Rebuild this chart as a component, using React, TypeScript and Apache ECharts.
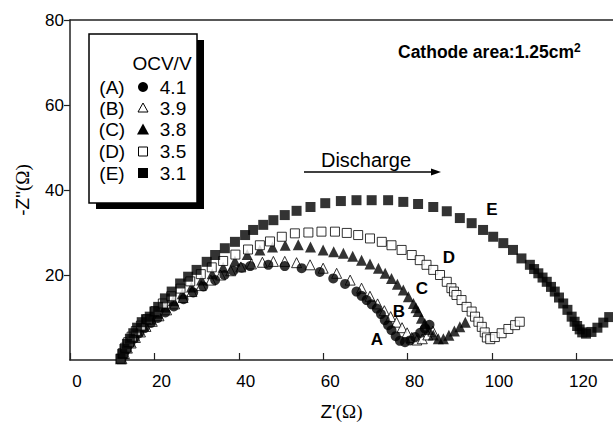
import React, { useEffect, useRef } from "react";
import * as echarts from "echarts";

const xTicks = [0, 20, 40, 60, 80, 100, 120];
const yTicks = [20, 40, 60, 80];

const seriesNames = ["A", "B", "C", "D", "E"];
const ocvValues = ["4.1", "3.9", "3.8", "3.5", "3.1"];

const dataA = [
  [12.2, 0.3], [12.8, 1.5], [13.5, 2.7], [14.3, 3.9], [15.3, 5.1], [16.4, 6.3], [17.7, 7.5],
  [19.2, 8.7], [20.8, 9.9], [22.6, 11.2], [24.6, 12.6], [26.9, 14.3], [29.2, 15.9], [31.6, 17.3],
  [34.4, 18.8], [36.6, 20.0], [38.7, 21.0], [40.7, 21.7], [42.7, 22.1], [47.0, 22.4], [50.9, 22.1],
  [54.9, 21.6], [59.2, 20.7], [62.4, 19.2], [65.2, 17.9], [67.9, 16.1], [69.1, 15.1], [70.3, 14.1],
  [71.5, 13.1], [72.7, 12.1], [73.7, 10.8], [74.6, 9.4], [75.4, 8.2], [76.2, 7.0], [77.2, 5.6],
  [78.2, 4.5], [79.4, 4.2], [80.6, 4.6], [81.8, 5.4], [83.0, 6.4], [84.1, 7.4], [85.2, 8.3],
];

const dataB = [
  [12.3, 0.3], [12.9, 1.5], [13.6, 2.8], [14.5, 4.0], [15.5, 5.3], [16.7, 6.6], [18.0, 7.9],
  [19.5, 9.1], [21.1, 10.4], [22.9, 11.8], [24.8, 13.2], [26.8, 14.7], [28.9, 16.1], [31.1, 17.5],
  [33.4, 18.8], [35.7, 20.0], [38.1, 21.0], [40.5, 21.9], [43.0, 22.6], [45.6, 23.0], [48.2, 23.2],
  [50.9, 23.2], [53.7, 22.9], [56.9, 22.4], [60.0, 21.6], [63.2, 20.4], [66.4, 18.8], [69.1, 16.9],
  [71.1, 15.0], [72.9, 13.2], [74.5, 11.6], [76.0, 10.2], [77.4, 8.9], [78.7, 7.6], [79.9, 6.4],
  [81.0, 5.3], [82.2, 4.7], [83.5, 5.0], [84.8, 5.9], [86.0, 6.8],
];

const dataC = [
  [12.0, 0.3], [12.6, 1.6], [13.3, 3.0], [14.1, 4.3], [15.0, 5.6], [16.1, 6.9], [17.4, 8.2],
  [19.0, 9.6], [20.7, 11.0], [22.5, 12.5], [24.5, 14.0], [26.6, 15.6], [28.8, 17.2], [31.2, 18.8],
  [33.7, 20.3], [36.3, 21.8], [39.1, 23.3], [42.0, 24.8], [45.0, 25.9], [48.0, 26.6], [51.0, 27.0],
  [54.1, 27.1], [57.0, 26.6], [60.0, 25.9], [62.5, 25.5], [64.8, 25.1], [67.0, 24.4], [69.1, 23.5],
  [71.1, 22.6], [73.1, 21.6], [74.7, 20.4], [76.2, 19.2], [77.6, 17.8], [79.0, 16.5], [80.2, 14.9],
  [81.4, 13.3], [82.0, 12.3], [82.5, 11.4], [83.3, 9.8], [84.1, 8.6], [85.0, 7.2], [86.1, 5.9], [87.3, 5.0],
  [88.5, 5.0], [89.8, 5.8], [91.1, 6.8], [92.4, 7.8], [93.7, 8.9],
];

const dataD = [
  [12.0, 0.3], [12.5, 1.6], [13.1, 2.9], [13.8, 4.2], [14.6, 5.5], [15.6, 6.8], [16.8, 8.1],
  [18.3, 9.6], [20.2, 11.5], [22.0, 13.3], [24.0, 15.0], [26.2, 16.8], [28.5, 18.5], [31.0, 20.2],
  [33.6, 21.8], [36.3, 23.3], [39.2, 24.8], [42.2, 26.0], [45.0, 27.0], [47.4, 27.9], [50.2, 29.0],
  [53.3, 29.8], [56.5, 30.0], [59.6, 30.2], [62.8, 30.2], [65.6, 29.9], [68.3, 29.4], [71.1, 28.6],
  [73.9, 27.8], [76.2, 27.0], [78.6, 25.9], [81.0, 24.7], [82.9, 23.5], [84.5, 22.4], [86.1, 21.2],
  [87.7, 20.0], [89.3, 18.4], [90.4, 16.9], [91.0, 16.1], [91.6, 15.3], [92.8, 14.1], [94.0, 12.5],
  [95.2, 11.4], [96.0, 10.2], [96.8, 9.0], [97.6, 7.8], [98.3, 6.5], [98.8, 5.3], [99.6, 4.9],
  [100.7, 5.4], [102.3, 6.3], [103.9, 7.3], [105.5, 8.2], [106.6, 9.0],
];

const dataE = [
  [12.0, 0.3], [12.4, 1.4], [12.9, 2.6], [13.5, 3.8], [14.2, 5.0], [15.0, 6.3], [15.9, 7.6],
  [17.0, 8.9], [18.0, 9.6], [18.9, 10.2], [20.0, 11.4], [20.9, 12.5], [22.5, 14.5], [24.1, 16.1],
  [26.1, 18.0], [28.0, 19.6], [30.0, 21.2], [32.4, 23.1], [34.4, 24.7], [36.7, 26.3], [39.1, 27.8],
  [41.5, 29.4], [43.4, 30.6], [45.8, 31.8], [48.2, 32.9], [50.9, 34.1], [53.7, 35.1], [57.0, 36.0],
  [60.5, 36.9], [64.2, 37.4], [67.9, 37.6], [71.5, 37.6], [75.4, 37.6], [79.0, 37.2], [82.5, 36.7],
  [86.1, 36.0], [89.3, 35.0], [92.4, 33.4], [95.2, 32.2], [97.9, 30.6], [100.3, 29.0], [102.7, 27.5],
  [105.0, 25.9], [107.0, 23.9], [109.0, 22.4], [110.0, 21.4], [111.0, 20.4], [112.0, 19.4],
  [113.0, 18.4], [114.0, 17.2], [114.9, 16.1], [115.9, 14.7], [116.9, 13.3], [117.9, 11.8],
  [118.9, 10.2], [119.6, 9.0], [120.2, 8.0], [120.8, 7.2], [121.4, 6.5], [122.3, 6.2], [123.6, 6.6],
  [125.0, 7.6], [126.4, 8.8], [127.8, 10.1], [129.0, 11.3],
];

const curveLabels = [
  { t: "A", x: 377, y: 339 },
  { t: "B", x: 399, y: 311 },
  { t: "C", x: 422, y: 288 },
  { t: "D", x: 449, y: 257 },
  { t: "E", x: 492, y: 209 },
];

const SANS = "'Liberation Sans', Arial, Helvetica, sans-serif";
const SERIF = "'Liberation Serif', 'Times New Roman', serif";

export default function App() {
  const ref = useRef<HTMLDivElement>(null);
  useEffect(() => {
    if (!ref.current) return;
    const chart = echarts.init(ref.current, null, { renderer: "svg" });
    const xMin = 0;
    const xMax = 128.7;

    const rowY = [87, 108, 129.5, 151.5, 173];
    const mx = 143;
    const Z = 110;
    const legendMarkers: any[] = [
      { type: "circle", z: Z, shape: { cx: mx, cy: rowY[0], r: 5 }, style: { fill: "#000" } },
      {
        type: "polygon", z: Z,
        shape: { points: [[mx, rowY[1] - 5], [mx + 5, rowY[1] + 4], [mx - 5, rowY[1] + 4]] },
        style: { fill: "#fff", stroke: "#000", lineWidth: 1 },
      },
      {
        type: "polygon", z: Z,
        shape: { points: [[mx, rowY[2] - 6], [mx + 6, rowY[2] + 5], [mx - 6, rowY[2] + 5]] },
        style: { fill: "#000" },
      },
      { type: "rect", z: Z, shape: { x: mx - 4.5, y: rowY[3] - 4.5, width: 9, height: 9 }, style: { fill: "#fff", stroke: "#000", lineWidth: 1 } },
      { type: "rect", z: Z, shape: { x: mx - 5, y: rowY[4] - 5, width: 10, height: 10 }, style: { fill: "#000" } },
    ];

    const legendTexts: any[] = [
      { type: "text", z: Z, x: 162, y: 63, style: { text: "OCV/V", font: `19px ${SANS}`, fill: "#000", align: "center", verticalAlign: "middle" } },
    ];
    seriesNames.forEach((n, i) => {
      legendTexts.push({
        type: "text", z: Z, x: 112, y: rowY[i],
        style: { text: `(${n})`, font: `19px ${SANS}`, fill: "#000", align: "center", verticalAlign: "middle" },
      });
      legendTexts.push({
        type: "text", z: Z, x: 173, y: rowY[i],
        style: { text: ocvValues[i], font: `19px ${SANS}`, fill: "#000", align: "center", verticalAlign: "middle" },
      });
    });

    const option: any = {
      animation: false,
      backgroundColor: "#fff",
      grid: { left: 70, right: 0, top: 20, bottom: 68 },
      xAxis: [
        {
          type: "value",
          min: xMin,
          max: xMax,
          interval: 20,
          name: "{a|Z'}{b|(Ω)}",
          nameLocation: "middle",
          nameGap: 42,
          nameTextStyle: {
            rich: {
              a: { fontFamily: SANS, fontSize: 19, color: "#000" },
              b: { fontFamily: SERIF, fontSize: 19, color: "#000" },
            },
          },
          axisLine: { show: true, lineStyle: { color: "#222", width: 1.5 } },
          axisTick: { show: true, inside: true, length: 7, lineStyle: { color: "#222", width: 1.2 } },
          axisLabel: {
            show: true,
            showMaxLabel: false,
            margin: 13,
            padding: [0, 0, 0, 14],
            fontFamily: SANS,
            fontSize: 17,
            color: "#000",
            formatter: (v: number) => (xTicks.indexOf(v) >= 0 ? String(v) : ""),
          },
          splitLine: { show: false },
        },
        {
          type: "value",
          position: "top",
          min: xMin,
          max: xMax,
          axisLine: { show: true, onZero: false, lineStyle: { color: "#222", width: 1.5 } },
          axisTick: { show: false },
          axisLabel: { show: false },
          splitLine: { show: false },
        },
      ],
      yAxis: {
        type: "value",
        min: 0,
        max: 80,
        interval: 20,
        name: '{a|-Z"}{b|(Ω)}',
        nameLocation: "middle",
        nameGap: 38,
        nameTextStyle: {
          rich: {
            a: { fontFamily: SANS, fontSize: 19, color: "#000" },
            b: { fontFamily: SERIF, fontSize: 19, color: "#000" },
          },
        },
        axisLine: { show: true, lineStyle: { color: "#222", width: 1.5 } },
        axisTick: { show: true, inside: false, length: 6, lineStyle: { color: "#222", width: 1.2 } },
        axisLabel: {
          showMinLabel: false,
          margin: 6,
          fontFamily: SANS,
          fontSize: 17,
          color: "#000",
          formatter: (v: number) => (yTicks.indexOf(v) >= 0 ? String(v) : ""),
        },
        splitLine: { show: false },
      },
      series: [
        { name: "B", type: "scatter", data: dataB, symbol: "triangle", symbolSize: 10, itemStyle: { color: "#fff", borderColor: "#000", borderWidth: 1 } },
        { name: "A", type: "scatter", data: dataA, symbol: "circle", symbolSize: 10, itemStyle: { color: "#000" } },
        { name: "C", type: "scatter", data: dataC, symbol: "triangle", symbolSize: 11, itemStyle: { color: "#000" } },
        { name: "D", type: "scatter", data: dataD, symbol: "rect", symbolSize: 9, itemStyle: { color: "#fff", borderColor: "#000", borderWidth: 1 } },
        { name: "E", type: "scatter", data: dataE, symbol: "rect", symbolSize: 10, itemStyle: { color: "#000" } },
      ],
      graphic: [
        { type: "rect", shape: { x: 96, y: 40, width: 108, height: 169 }, style: { fill: "#000" }, z: 100 },
        { type: "rect", shape: { x: 89, y: 34, width: 108, height: 169 }, style: { fill: "#fff", stroke: "#000", lineWidth: 1.5 }, z: 101 },
        ...legendTexts,
        ...legendMarkers,
        {
          type: "text", x: 398, y: 52, z: 100,
          style: {
            text: "{a|Cathode area:1.25cm}{s|2}",
            verticalAlign: "middle",
            rich: {
              a: { fontFamily: SANS, fontSize: 17.5, fontWeight: "bold", fill: "#000", color: "#000" },
              s: { fontFamily: SANS, fontSize: 12, fontWeight: "bold", fill: "#000", color: "#000", verticalAlign: "top", padding: [0, 0, 8, 0] },
            },
          },
        },
        {
          type: "text", x: 366, y: 160, z: 100,
          style: { text: "Discharge", font: `20px ${SANS}`, fill: "#000", align: "center", verticalAlign: "middle" },
        },
        { type: "line", shape: { x1: 304, y1: 172, x2: 433, y2: 172 }, style: { stroke: "#000", lineWidth: 1.5 }, z: 100 },
        { type: "polygon", shape: { points: [[431, 168.5], [441, 172], [431, 175.5]] }, style: { fill: "#000" }, z: 100 },
        ...curveLabels.map((c) => ({
          type: "text", x: c.x, y: c.y, z: 100,
          style: { text: c.t, font: `bold 17px ${SANS}`, fill: "#000", align: "center", verticalAlign: "middle" },
        })),
      ],
    };
    chart.setOption(option);
    return () => chart.dispose();
  }, []);
  return <div ref={ref} style={{ width: 613, height: 428, position: "absolute", left: 0, top: 0 }} />;
}
